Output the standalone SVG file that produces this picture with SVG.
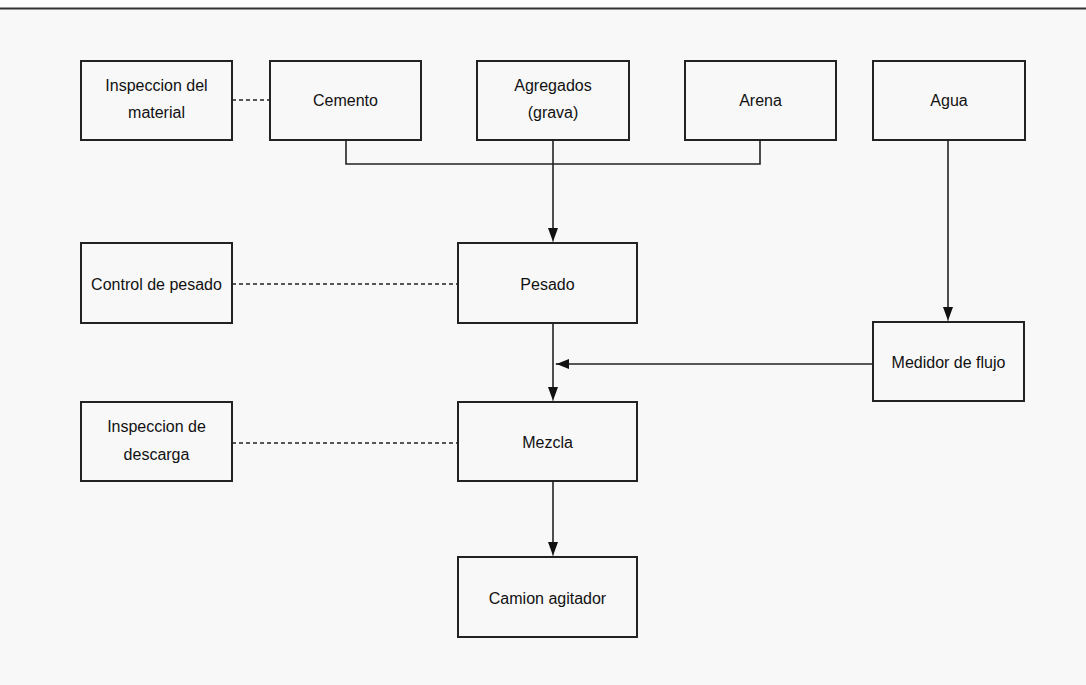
<svg xmlns="http://www.w3.org/2000/svg" width="1086" height="685" viewBox="0 0 1086 685">
<style>
.box{fill:none;stroke:#222;stroke-width:2}
.t{font-family:"Liberation Sans",Arial,sans-serif;font-size:16px;fill:#111;text-anchor:middle}
.c{fill:none;stroke:#222;stroke-width:1.6}
.d{fill:none;stroke:#222;stroke-width:1.6;stroke-dasharray:4 3}
.ah{fill:#111;stroke:none}
</style>
<defs>
<path id="down" class="ah" d="M-5,-15 L5,-15 L1,-4 L0,0 L-1,-4 Z"/>
</defs>
<rect x="0" y="0" width="1086" height="685" fill="#f8f8f8"/>
<rect x="0" y="0" width="1086" height="8" fill="#ffffff"/>
<line x1="0" y1="8.5" x2="1086" y2="8.5" stroke="#333" stroke-width="2"/>
<g id="connectors">
<line class="d" x1="232" y1="100" x2="270" y2="100"/>
<polyline class="c" points="346,140 346,164 760,164 760,140"/>
<line class="c" x1="553" y1="140" x2="553" y2="232"/>
<use href="#down" x="553" y="243"/>
<line class="c" x1="948" y1="140" x2="948" y2="311"/>
<use href="#down" x="948" y="322"/>
<line class="d" x1="232" y1="284" x2="458" y2="284"/>
<line class="c" x1="553" y1="323" x2="553" y2="392"/>
<use href="#down" x="553" y="402"/>
<line class="c" x1="873" y1="364" x2="556" y2="364"/>
<path class="ah" d="M555,364 L559,363 L569,359 L569,369 L559,365 Z"/>
<line class="d" x1="232" y1="443" x2="458" y2="443"/>
<line class="c" x1="553" y1="481" x2="553" y2="546"/>
<use href="#down" x="553" y="557"/>
</g>
<g id="inspeccion-material"><rect class="box" x="81" y="61" width="151" height="79"/><text class="t" x="156.5" y="91">Inspeccion del</text><text class="t" x="156.5" y="118">material</text></g>
<g id="cemento"><rect class="box" x="270" y="61" width="151" height="79"/><text class="t" x="345.5" y="106">Cemento</text></g>
<g id="agregados"><rect class="box" x="477" y="61" width="152" height="79"/><text class="t" x="553" y="91">Agregados</text><text class="t" x="553" y="118">(grava)</text></g>
<g id="arena"><rect class="box" x="685" y="61" width="151" height="79"/><text class="t" x="760.5" y="106">Arena</text></g>
<g id="agua"><rect class="box" x="873" y="61" width="152" height="79"/><text class="t" x="949" y="106">Agua</text></g>
<g id="control-pesado"><rect class="box" x="81" y="243" width="151" height="80"/><text class="t" x="156.5" y="290">Control de pesado</text></g>
<g id="pesado"><rect class="box" x="458" y="243" width="179" height="80"/><text class="t" x="547.5" y="290">Pesado</text></g>
<g id="medidor"><rect class="box" x="873" y="322" width="151" height="79"/><text class="t" x="948.5" y="368">Medidor de flujo</text></g>
<g id="inspeccion-descarga"><rect class="box" x="81" y="402" width="151" height="79"/><text class="t" x="156.5" y="432">Inspeccion de</text><text class="t" x="156.5" y="460">descarga</text></g>
<g id="mezcla"><rect class="box" x="458" y="402" width="179" height="79"/><text class="t" x="547.5" y="448">Mezcla</text></g>
<g id="camion"><rect class="box" x="458" y="557" width="179" height="80"/><text class="t" x="547.5" y="604">Camion agitador</text></g>
</svg>
